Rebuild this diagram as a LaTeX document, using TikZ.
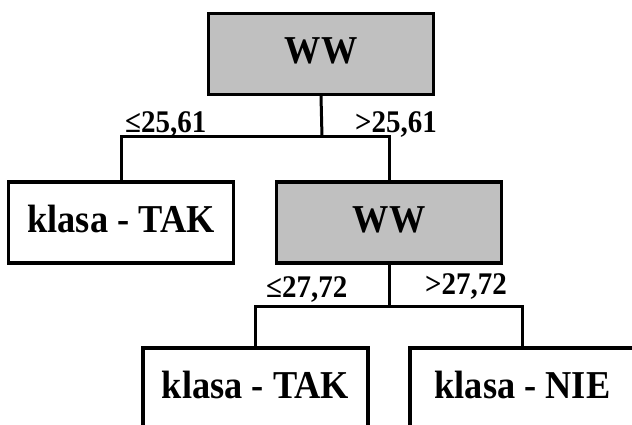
\documentclass[tikz,border=0pt]{standalone}
\usepackage{fontspec}
\setmainfont{Liberation Serif}
\newfontfamily\treefont[FakeStretch=0.92]{Liberation Serif}
\definecolor{boxgray}{HTML}{C0C0C0}
\tikzset{
  treebox/.style={draw=black, line width=3.2pt, rectangle, inner sep=0pt,
    minimum width=225pt, minimum height=81pt, font=\treefont\fontsize{39.5}{42}\selectfont\bfseries,
    text height=26pt, text depth=6pt},
  splitbox/.style={treebox, fill=boxgray},
  lowbox/.style={treebox, minimum height=90pt, text height=26pt, text depth=16pt},
  conn/.style={line width=3pt, line join=miter},
  cond/.style={inner sep=0pt, anchor=base west, font=\treefont\fontsize{31.5}{34}\selectfont\bfseries}
}
\begin{document}
\begin{tikzpicture}[x=1pt, y=-1pt]
\useasboundingbox (0,0) rectangle (632,425);
% nodes
\node[splitbox] (top) at (321,54) {WW};
\node[treebox] (leafL) at (121,222.5) {klasa - TAK};
\node[splitbox] (ww2) at (389,222.5) {WW};
\node[lowbox] (leafB1) at (255.5,393) {klasa - TAK};
\node[lowbox] (leafB2) at (522.5,393) {klasa - NIE};
% junctions
\coordinate (j1) at (322,137);
\coordinate (j2) at (389,306);
% connectors
\draw[conn] (top.south) -- (j1);
\draw[conn] (leafL.north) |- (j1) -| (ww2.north);
\draw[conn] (ww2.south) -- (j2);
\draw[conn] (leafB1.north) |- (j2) -| (leafB2.north);
% labels
\node[cond] (c1) at (125,133) {≤25,61};
\node[cond] (c2) at (355,133) {>25,61};
\node[cond] (c3) at (266,297) {≤27,72};
\node[cond] (c4) at (425,294) {>27,72};
\end{tikzpicture}
\end{document}
